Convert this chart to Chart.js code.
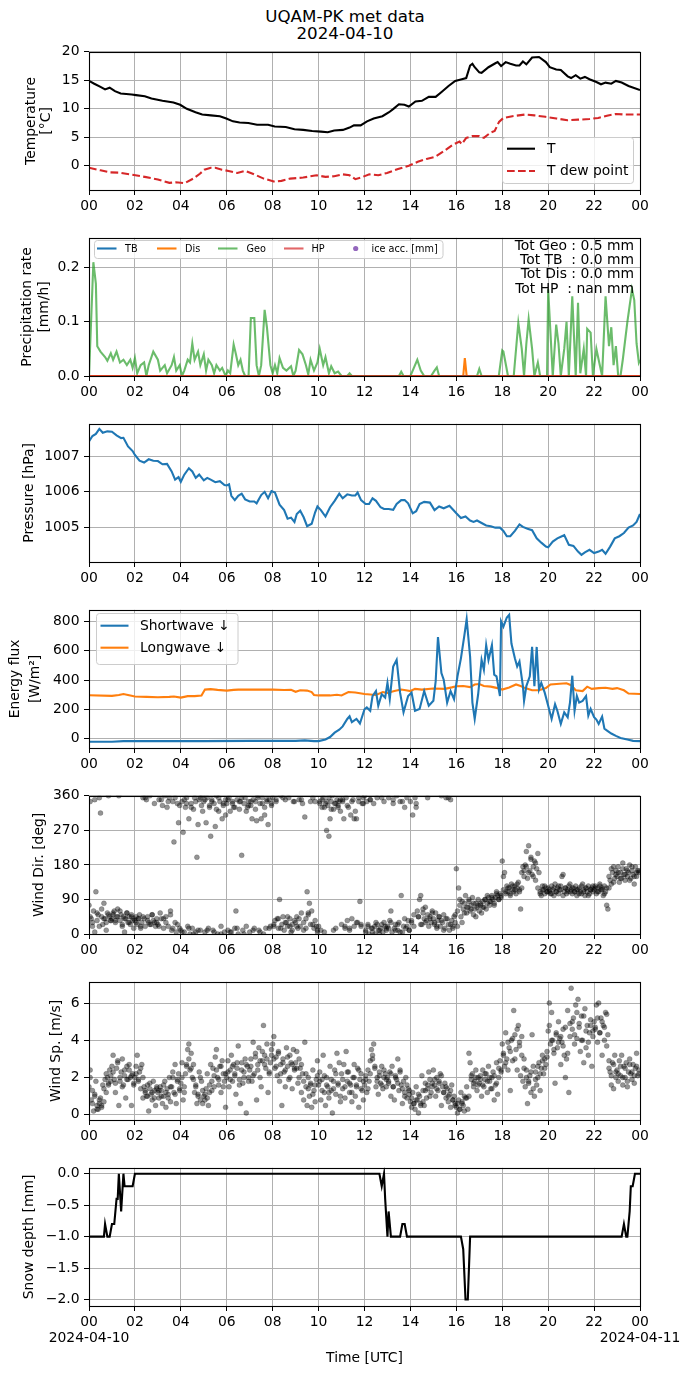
<!DOCTYPE html>
<html><head><meta charset="utf-8">
<script src="https://cdn.jsdelivr.net/npm/chart.js@4.4.0/dist/chart.umd.min.js"></script>
<style>
html,body{margin:0;padding:0;background:#fff;}
body{width:690px;height:1376px;position:relative;overflow:hidden;font-family:"DejaVu Sans",sans-serif;}
canvas{position:absolute;left:0;}
#title{position:absolute;left:0;top:8px;width:690px;text-align:center;font-size:16.7px;line-height:16.7px;color:#000;}
</style>
</head><body>
<div id="title">UQAM-PK met data<br>2024-04-10</div>
<script>
// ---------------- DATA ----------------
const xTickHours = [0,2,4,6,8,10,12,14,16,18,20,22,24];
const xTickLabels = ['00','02','04','06','08','10','12','14','16','18','20','22','00'];
const dateStart = '2024-04-10', dateEnd = '2024-04-11';

// Temperature [°C] : [hour, value]
const tempT = [[0,14.9],[0.23,14.4],[0.5,13.85],[0.7,13.4],[0.9,13.7],[1.13,13.1],[1.38,12.7],[1.86,12.5],[2.05,12.4],[2.43,12.2],[2.72,11.8],[3.2,11.4],[3.68,11.1],[3.97,10.7],[4.26,10.0],[4.64,9.4],[4.93,9.0],[5.31,8.85],[5.7,8.7],[5.98,8.3],[6.27,7.8],[6.56,7.6],[6.94,7.5],[7.32,7.2],[7.8,7.2],[8.09,6.9],[8.57,6.8],[8.95,6.4],[9.33,6.3],[9.72,6.1],[10.1,6.0],[10.4,5.9],[10.68,6.2],[11.06,6.3],[11.35,6.7],[11.54,7.1],[11.83,7.1],[12.11,7.8],[12.4,8.3],[12.78,8.7],[13.07,9.4],[13.26,10.0],[13.5,10.8],[13.74,10.7],[13.93,10.4],[14.22,11.3],[14.5,11.4],[14.8,12.1],[15.1,12.1],[15.37,13.0],[15.66,14.0],[15.95,14.9],[16.24,15.2],[16.43,15.4],[16.6,17.6],[16.7,17.9],[16.8,17.3],[17.0,16.4],[17.1,16.3],[17.4,17.3],[17.7,18.0],[17.8,18.2],[17.95,17.5],[18.15,18.2],[18.35,17.9],[18.6,17.6],[18.75,17.6],[18.9,18.3],[19.05,17.8],[19.3,19.0],[19.6,19.1],[19.9,18.2],[20.07,17.3],[20.35,16.9],[20.55,16.8],[20.85,15.7],[21.0,15.4],[21.2,15.9],[21.4,15.3],[21.6,15.6],[21.8,15.2],[22.1,14.7],[22.3,14.3],[22.5,14.6],[22.75,14.4],[22.95,14.9],[23.2,14.6],[23.5,14.0],[24,13.3]];
const tempTd = [[0,-0.35],[0.5,-0.8],[0.9,-1.15],[1.28,-1.2],[1.86,-1.55],[2.43,-1.95],[3.0,-2.4],[3.5,-3.0],[3.78,-2.9],[4.16,-3.05],[4.54,-2.25],[4.83,-1.4],[5.02,-0.7],[5.31,-0.35],[5.5,-0.35],[5.79,-0.7],[6.08,-0.9],[6.46,-1.26],[6.8,-0.9],[7.13,-1.4],[7.61,-2.25],[8.09,-2.8],[8.38,-2.65],[8.76,-2.25],[9.33,-2.07],[9.91,-1.67],[10.3,-1.95],[10.68,-1.84],[11.06,-1.5],[11.35,-1.67],[11.6,-2.35],[11.92,-1.95],[12.21,-1.5],[12.6,-1.67],[12.98,-1.26],[13.46,-0.57],[13.93,0.0],[14.32,0.7],[14.7,1.2],[15.09,1.6],[15.47,2.6],[15.85,3.7],[16.14,4.25],[16.24,3.8],[16.43,4.9],[16.7,5.2],[17.0,5.2],[17.2,4.9],[17.48,5.8],[17.67,6.1],[17.86,7.7],[18.05,8.4],[18.44,8.7],[19.0,9.0],[19.4,8.85],[19.88,8.6],[20.36,8.3],[20.84,8.0],[21.3,8.1],[21.8,8.2],[22.18,8.4],[22.56,8.8],[22.94,9.1],[23.33,9.0],[23.7,9.0],[24,9.0]];
const tempTicks = [0,5,10,15,20];
const tempTickLabels = ['0','5','10','15','20'];

// Precipitation rate [mm/h]
const precipGeo = [[0,0],[0.19,0.21],[0.3,0.17],[0.36,0.055],[0.5,0.045],[0.7,0.035],[0.8,0.028],[0.95,0.042],[1.05,0.03],[1.2,0.045],[1.35,0.025],[1.5,0.03],[1.65,0.02],[1.8,0.03],[1.9,0.015],[2.0,0.033],[2.1,0.005],[2.25,0.02],[2.4,0.025],[2.5,0.0],[2.6,0.02],[2.8,0.045],[3.0,0.03],[3.1,0.01],[3.3,0.02],[3.4,0.005],[3.6,0.02],[3.7,0.035],[3.8,0.01],[3.95,0.02],[4.05,0.0],[4.15,0.01],[4.3,0.03],[4.4,0.025],[4.5,0.06],[4.6,0.03],[4.75,0.045],[4.85,0.02],[5.0,0.04],[5.1,0.01],[5.2,0.03],[5.35,0.02],[5.45,0.005],[5.55,0.02],[5.7,0.01],[5.8,0.015],[5.95,0.0],[6.05,0.01],[6.15,0.005],[6.3,0.058],[6.4,0.04],[6.5,0.02],[6.6,0.03],[6.7,0.01],[6.8,0.0],[6.95,0.0],[7.05,0.107],[7.2,0.107],[7.3,0.02],[7.4,0.0],[7.5,0.02],[7.65,0.122],[7.75,0.09],[7.9,0.02],[8.0,0.005],[8.1,0.02],[8.2,0.005],[8.3,0.033],[8.45,0.015],[8.6,0.01],[8.8,0.018],[8.9,0.0],[9.0,0.01],[9.15,0.048],[9.3,0.04],[9.45,0.02],[9.55,0.003],[9.65,0.03],[9.8,0.01],[9.95,0.025],[10.05,0.05],[10.2,0.02],[10.3,0.035],[10.45,0.005],[10.55,0.018],[10.7,0.005],[10.85,0.008],[11.0,0.0],[11.25,0.0],[11.35,0.005],[11.45,0.0],[13.5,0.0],[13.6,0.008],[13.7,0.0],[14.0,0.0],[14.15,0.015],[14.3,0.03],[14.45,0.01],[14.6,0.0],[14.9,0.0],[15.05,0.01],[15.15,0.016],[15.25,0.0],[16.9,0.0],[17.0,0.013],[17.1,0.0],[17.85,0.0],[18.0,0.047],[18.05,0.045],[18.25,0.0],[18.5,0.0],[18.7,0.098],[18.85,0.05],[18.95,0.0],[19.05,0.06],[19.15,0.105],[19.3,0.05],[19.4,0.0],[19.55,0.025],[19.65,0.0],[19.95,0.0],[20.0,0.16],[20.1,0.08],[20.2,0.0],[20.35,0.095],[20.45,0.06],[20.55,0.0],[20.7,0.05],[20.8,0.1],[20.9,0.0],[21.05,0.147],[21.2,0.0],[21.3,0.135],[21.4,0.005],[21.55,0.05],[21.65,0.0],[21.7,0.087],[21.85,0.08],[21.95,0.0],[22.1,0.05],[22.25,0.02],[22.35,0.0],[22.5,0.147],[22.65,0.055],[22.75,0.09],[22.85,0.02],[22.95,0.055],[23.05,0.0],[23.15,0.0],[23.25,0.03],[23.45,0.1],[23.65,0.16],[23.75,0.14],[23.85,0.06],[23.95,0.025],[24,0.03]];
const precipDis = [[0,0],[16.3,0],[16.37,0.033],[16.45,0],[24,0]];
const precipTB = [[0,0],[24,0]];
const precipHP = [[0,0],[24,0]];
const precipTicks = [0,0.1,0.2];
const precipTickLabels = ['0.0','0.1','0.2'];
const precipLegend = ['TB','Dis','Geo','HP','ice acc. [mm]'];
const precipTotals = ['Tot Geo : 0.5 mm','Tot TB  : 0.0 mm','Tot Dis : 0.0 mm','Tot HP  : nan mm'];

// Pressure [hPa]
const pressure = [[0,1007.41],[0.15,1007.56],[0.3,1007.62],[0.45,1007.76],[0.6,1007.65],[0.8,1007.69],[1.0,1007.68],[1.2,1007.58],[1.4,1007.5],[1.5,1007.51],[1.7,1007.27],[1.9,1007.14],[2.0,1007.03],[2.2,1006.87],[2.4,1006.82],[2.6,1006.91],[2.8,1006.87],[3.0,1006.86],[3.2,1006.77],[3.4,1006.78],[3.6,1006.57],[3.75,1006.34],[3.9,1006.41],[4.0,1006.28],[4.15,1006.48],[4.35,1006.66],[4.5,1006.57],[4.65,1006.39],[4.8,1006.48],[5.0,1006.32],[5.15,1006.39],[5.3,1006.34],[5.5,1006.27],[5.7,1006.3],[5.9,1006.19],[6.0,1006.18],[6.1,1006.21],[6.2,1005.89],[6.35,1005.77],[6.5,1005.89],[6.65,1005.95],[6.8,1005.79],[7.0,1005.73],[7.2,1005.73],[7.3,1005.68],[7.5,1005.91],[7.65,1006.0],[7.8,1005.82],[7.95,1006.02],[8.1,1005.98],[8.3,1005.64],[8.5,1005.49],[8.65,1005.25],[8.8,1005.28],[8.95,1005.16],[9.05,1005.38],[9.2,1005.47],[9.35,1005.29],[9.5,1005.04],[9.7,1005.11],[9.85,1005.43],[9.95,1005.59],[10.1,1005.49],[10.3,1005.31],[10.5,1005.57],[10.7,1005.75],[10.9,1005.95],[11.05,1005.82],[11.25,1005.93],[11.45,1005.9],[11.6,1005.9],[11.7,1005.98],[11.85,1005.77],[12.05,1005.66],[12.2,1005.66],[12.35,1005.82],[12.5,1005.75],[12.7,1005.57],[12.85,1005.52],[13.05,1005.52],[13.25,1005.5],[13.4,1005.66],[13.6,1005.77],[13.75,1005.77],[13.9,1005.68],[14.1,1005.4],[14.25,1005.46],[14.4,1005.66],[14.6,1005.72],[14.85,1005.7],[15.05,1005.49],[15.25,1005.59],[15.45,1005.54],[15.7,1005.61],[15.9,1005.47],[16.0,1005.4],[16.2,1005.27],[16.4,1005.31],[16.6,1005.2],[16.75,1005.16],[16.9,1005.2],[17.1,1005.13],[17.3,1005.06],[17.5,1005.04],[17.7,1005.0],[17.9,1005.0],[18.05,1004.91],[18.2,1004.76],[18.35,1004.76],[18.55,1004.91],[18.75,1005.09],[18.9,1005.02],[19.1,1004.97],[19.3,1004.93],[19.5,1004.7],[19.7,1004.58],[19.9,1004.47],[20.0,1004.45],[20.2,1004.61],[20.4,1004.7],[20.6,1004.76],[20.7,1004.79],[20.9,1004.52],[21.1,1004.49],[21.3,1004.33],[21.45,1004.24],[21.6,1004.31],[21.8,1004.38],[22.0,1004.29],[22.2,1004.33],[22.35,1004.38],[22.5,1004.27],[22.7,1004.47],[22.9,1004.7],[23.1,1004.76],[23.3,1004.85],[23.5,1005.0],[23.7,1005.06],[23.85,1005.16],[24,1005.38]];
const pressureTicks = [1005,1006,1007];
const pressureTickLabels = ['1005','1006','1007'];

// Energy flux [W/m2]
const shortwave = [[0,-22],[1.0,-22],[1.5,-18],[3,-18],[5,-18],[7,-16],[9,-16],[9.4,-13],[9.8,-18],[10.0,-18],[10.3,-7],[10.5,10],[10.7,40],[10.9,60],[11.05,83],[11.25,134],[11.35,152],[11.45,112],[11.65,134],[11.8,103],[12.0,200],[12.1,213],[12.25,190],[12.35,290],[12.5,325],[12.6,224],[12.75,303],[12.9,280],[13.0,381],[13.1,269],[13.25,493],[13.4,538],[13.55,314],[13.7,179],[13.9,291],[14.05,314],[14.2,190],[14.4,202],[14.6,325],[14.8,224],[15.0,258],[15.1,392],[15.2,695],[15.35,448],[15.45,403],[15.6,246],[15.75,325],[15.9,269],[16.05,426],[16.2,549],[16.35,706],[16.45,818],[16.6,560],[16.7,246],[16.8,134],[16.95,303],[17.1,538],[17.2,471],[17.3,639],[17.4,538],[17.55,639],[17.65,437],[17.75,426],[17.9,291],[17.95,802],[18.05,766],[18.2,829],[18.3,847],[18.4,650],[18.55,549],[18.65,493],[18.75,527],[18.9,359],[18.95,258],[19.05,359],[19.2,426],[19.3,627],[19.4,359],[19.5,627],[19.6,336],[19.7,381],[19.85,314],[20.0,224],[20.15,134],[20.3,235],[20.4,190],[20.55,100],[20.7,179],[20.85,146],[20.95,246],[21.05,430],[21.15,190],[21.25,291],[21.35,246],[21.5,258],[21.65,291],[21.75,157],[21.85,202],[22.0,146],[22.1,130],[22.2,100],[22.35,150],[22.45,67],[22.55,56],[22.75,34],[22.95,18],[23.15,4],[23.45,-7],[23.7,-16],[24,-18]];
const longwave = [[0,296],[1.0,292],[1.3,298],[1.5,305],[1.8,295],[2.0,288],[2.5,285],[3.0,283],[3.5,285],[3.7,288],[4.0,280],[4.3,290],[4.6,290],[4.9,295],[5.05,335],[5.3,338],[5.6,333],[6.0,328],[6.3,333],[6.5,335],[7.0,335],[8.0,335],[8.5,332],[8.8,333],[9.0,320],[9.2,330],[9.5,328],[9.7,318],[9.8,298],[10.0,295],[10.5,295],[10.8,300],[11.0,295],[11.3,318],[11.6,315],[12.0,305],[12.5,298],[12.8,318],[13.0,312],[13.3,325],[13.6,335],[13.8,330],[14.0,325],[14.2,340],[14.5,335],[15.0,342],[15.5,340],[15.8,350],[16.0,358],[16.3,360],[16.6,352],[16.8,370],[17.0,373],[17.2,360],[17.5,355],[17.8,345],[18.0,335],[18.3,350],[18.6,370],[18.8,360],[19.0,345],[19.3,330],[19.6,330],[19.9,345],[20.1,370],[20.5,375],[20.8,378],[21.0,365],[21.2,330],[21.5,325],[21.7,355],[21.9,340],[22.2,345],[22.5,348],[22.8,340],[23.0,345],[23.3,330],[23.5,308],[24,305]];
const fluxTicks = [0,200,400,600,800];
const fluxTickLabels = ['0','200','400','600','800'];
const fluxLegend = ['Shortwave ↓','Longwave ↓'];

// Wind direction [deg], one row per hour (3-minute samples)
const windDir = [
[75,345,40,20,60,5,110,35,50,355,315,45,25,80,40,30,55,360,45,35],
[40,55,60,30,45,65,360,35,50,20,45,5,40,55,30,45,25,50,35,40],
[35,45,25,40,50,15,30,355,40,20,350,45,30,360,25,50,35,340,20,30],
[25,350,55,40,335,15,360,45,330,20,355,60,10,345,240,30,5,340,290,15],
[10,345,265,5,330,355,20,300,0,340,15,325,355,5,200,285,350,10,335,360],
[345,5,290,355,15,330,255,350,10,340,280,360,0,320,345,20,300,335,5,350],
[340,10,355,320,5,345,330,15,60,350,0,325,345,205,10,340,355,20,330,345],
[5,335,300,350,15,345,295,360,10,340,300,355,0,330,15,345,285,350,20,340],
[355,20,35,345,40,15,90,360,25,45,10,350,30,20,355,40,5,25,345,35],
[30,45,15,350,20,55,340,10,305,40,110,50,80,25,60,355,15,345,20,10],
[20,345,10,330,355,5,340,270,335,255,300,345,360,325,340,15,350,330,345,320],
[25,345,300,15,355,35,330,10,310,40,350,20,320,300,30,345,85,20,340,355],
[360,10,345,25,0,350,15,5,340,20,30,355,10,0,15,25,5,345,20,10],
[20,355,35,60,5,340,15,25,360,10,30,345,100,5,20,330,15,355,35,10],
[345,30,310,20,355,330,60,45,90,100,25,55,40,70,35,50,20,45,30,60],
[40,25,55,15,35,45,20,360,30,50,15,355,40,25,10,350,35,20,45,30],
[170,20,120,90,45,30,65,80,100,55,70,85,60,75,95,50,65,80,70,90],
[60,75,55,85,70,90,65,80,95,75,85,100,90,80,95,110,100,90,105,95],
[190,115,160,105,125,110,120,100,130,115,110,125,105,120,135,115,65,160,175,150],
[180,215,145,230,165,200,155,175,190,140,170,210,160,110,100,125,115,105,120,110],
[120,110,105,125,115,100,130,110,120,105,115,125,150,155,110,120,105,115,125,110],
[115,105,120,110,125,100,115,120,110,105,130,115,100,120,110,125,105,115,120,110],
[115,125,105,120,110,130,115,120,100,125,110,75,65,120,140,130,160,175,145,165],
[150,175,135,160,145,185,155,140,170,150,160,180,145,165,155,130,175,150,165,160]];
// Wind direction, intermediate samples (6-minute, offset), one row per hour
const windDirMid = [
[45,30,350,55,20,65,40,10,50,35],
[50,35,45,60,25,40,55,30,45,15],
[30,40,20,45,355,35,25,50,30,40],
[20,350,40,30,345,50,15,355,25,335],
[5,350,340,15,330,0,345,10,355,320],
[350,10,335,345,5,325,355,0,340,310],
[350,5,340,330,15,345,355,0,320,335],
[345,10,325,355,5,340,310,350,15,335],
[25,350,40,15,355,30,45,20,10,345],
[20,40,350,30,15,55,345,25,35,5],
[340,350,330,345,355,325,10,340,335,350],
[350,20,335,15,345,300,30,355,25,340],
[5,20,350,15,0,25,10,355,30,15],
[15,30,350,10,25,5,345,40,20,10],
[35,50,340,45,25,65,30,355,40,55],
[30,20,45,35,10,40,355,25,15,50],
[60,75,85,55,70,90,65,80,45,75],
[80,70,90,100,85,95,75,105,90,100],
[150,110,120,105,125,115,130,110,120,165],
[175,160,195,150,185,120,105,115,125,110],
[115,105,120,110,125,115,100,120,110,130],
[120,110,115,105,125,110,120,100,115,125],
[120,110,125,115,105,120,150,170,135,155],
[160,145,170,155,165,140,175,150,160,165]];
const windDirTicks = [0,90,180,270,360];
const windDirTickLabels = ['0','90','180','270','360'];

// Wind speed [m/s], one row per hour (3-minute samples)
const windSpd = [
[1.5,2.4,0.8,1.3,0.2,1.0,1.8,0.5,0.3,0.6,0.9,0.4,1.6,0.7,1.9,1.2,2.0,1.6,2.4,1.8],
[2.6,3.2,1.9,1.2,2.5,2.9,0.5,1.8,2.3,3.0,1.6,2.1,0.9,2.6,1.9,2.4,2.0,0.5,2.2,1.7],
[2.0,2.6,3.2,1.9,2.3,1.4,2.7,0.9,1.5,1.2,1.0,1.6,0.2,1.4,1.1,0.8,1.8,1.3,0.5,1.5],
[1.2,0.9,1.5,1.3,0.6,1.0,1.8,0.4,1.4,1.1,2.0,0.7,1.5,2.3,1.2,2.7,0.6,1.9,2.2,1.4],
[1.7,2.8,0.8,1.5,2.2,2.6,3.5,3.8,2.4,3.3,2.0,2.7,1.2,1.5,0.6,1.0,2.3,0.8,1.8,0.6],
[1.0,0.8,1.4,2.2,0.5,1.2,2.7,1.8,2.5,1.5,3.1,3.5,2.0,1.6,2.6,1.2,2.9,2.2,1.8,0.4],
[2.0,2.9,1.5,2.4,3.2,1.8,2.7,2.2,1.1,2.5,3.7,1.9,0.6,2.8,1.7,2.3,3.0,0.1,2.6,2.0],
[2.4,3.0,1.8,3.9,2.2,3.3,0.8,2.7,3.6,2.0,1.5,2.9,4.8,3.2,2.5,3.8,1.2,2.2,2.8,3.5],
[3.8,4.2,2.5,3.1,2.1,3.4,1.8,2.7,0.5,3.0,2.3,1.5,3.6,2.6,1.9,3.2,2.8,1.4,3.5,2.4],
[2.8,3.4,1.7,3.0,2.5,1.2,2.2,0.8,3.9,1.5,0.5,2.0,1.0,1.6,0.4,2.4,1.3,0.7,1.9,2.9],
[1.6,2.3,0.8,1.9,3.2,1.2,0.5,2.0,1.5,0.9,2.6,1.3,0.1,1.8,2.4,1.1,3.3,1.6,2.8,0.7],
[2.2,1.4,2.7,0.9,3.4,1.8,2.3,1.2,1.6,0.7,2.0,2.7,1.0,1.5,2.5,0.4,1.9,2.2,1.3,0.8],
[1.6,2.1,1.2,2.4,1.8,2.9,3.5,3.2,3.8,2.5,1.5,2.0,1.1,2.3,1.7,2.6,1.4,2.0,2.2,1.5],
[2.0,1.7,2.3,1.0,2.6,1.5,0.8,2.1,1.9,3.0,1.3,2.4,1.6,0.6,1.8,1.2,2.0,0.9,1.4,1.1],
[0.7,0.4,1.2,0.6,0.3,1.5,0.8,0.1,1.0,0.6,2.1,1.3,0.5,1.7,0.9,1.4,2.3,1.9,1.2,1.7],
[2.4,1.6,1.0,2.0,1.3,1.8,2.2,0.5,1.5,1.2,1.7,0.9,1.4,0.7,1.1,0.4,1.6,0.8,1.0,0.5],
[0.4,0.1,0.8,0.3,1.2,0.6,0.5,1.0,0.9,1.5,0.3,3.3,2.8,1.9,2.2,1.5,1.8,2.4,1.3,2.0],
[1.7,2.1,1.0,2.4,1.5,1.9,2.2,1.2,2.6,1.8,1.4,2.0,2.3,0.8,1.6,2.8,1.1,2.0,2.9,2.4],
[3.8,3.2,2.6,4.4,3.0,2.4,3.6,1.3,4.0,2.9,5.6,4.3,3.5,2.4,4.8,3.9,2.1,4.2,1.8,3.0],
[1.5,2.4,0.6,1.8,2.1,1.2,4.3,2.6,1.0,2.3,1.6,2.0,2.8,1.3,2.5,3.2,2.2,3.0,2.7,3.4],
[4.5,6.0,3.8,5.5,4.0,3.3,1.7,4.3,3.6,5.0,4.1,2.7,3.9,4.6,3.2,2.0,3.0,5.6,1.2,4.2],
[6.8,4.6,5.2,3.8,5.9,4.1,6.2,4.9,3.4,5.3,4.0,2.8,5.7,3.6,4.8,3.2,4.4,5.1,2.6,4.5],
[5.0,4.7,5.9,3.9,6.0,4.4,5.2,3.2,4.8,4.0,5.5,3.7,4.3,2.9,2.3,1.6,2.8,1.4,3.2,2.0],
[2.4,1.8,2.9,2.1,3.2,1.6,2.6,2.0,2.8,1.5,2.3,3.0,2.2,1.9,2.7,1.7,2.5,3.3,2.1,2.4]];
// Wind speed, intermediate samples (6-minute, offset), one row per hour
const windSpdMid = [
[2.0,0.6,1.1,0.3,0.8,0.5,1.4,2.2,1.7,2.1],
[2.3,1.7,2.8,2.0,1.5,2.4,1.9,2.7,2.1,1.6],
[2.2,1.8,2.5,2.0,1.3,1.0,1.7,1.2,0.9,1.4],
[1.3,1.0,1.6,1.2,0.9,1.5,2.0,1.1,1.8,1.3],
[2.0,1.2,2.7,3.0,2.5,1.9,1.6,1.1,2.0,1.3],
[1.1,0.9,1.6,1.3,2.1,2.4,1.9,2.6,1.5,2.2],
[2.3,1.9,2.6,2.1,2.8,1.6,2.4,2.0,2.7,1.8],
[2.6,2.1,3.1,2.4,2.9,3.4,2.7,3.0,2.3,3.2],
[3.0,2.6,3.3,2.2,2.8,2.4,3.1,2.0,2.7,2.5],
[2.5,2.0,2.7,1.8,2.2,1.4,1.7,1.1,1.6,2.1],
[1.8,1.3,2.1,1.6,1.2,1.9,1.4,2.2,1.7,1.0],
[1.9,1.5,2.3,1.7,1.2,2.0,1.6,2.4,1.4,1.8],
[1.9,1.4,2.2,3.0,2.6,1.8,2.1,1.6,2.4,1.9],
[1.8,2.2,1.5,2.0,1.7,2.3,1.4,1.0,1.6,1.3],
[0.9,0.6,0.8,1.1,0.5,0.7,1.3,1.6,1.0,1.5],
[1.9,1.4,1.7,2.1,1.2,1.5,1.0,1.3,0.8,0.6],
[0.6,0.3,0.7,0.2,0.9,1.0,2.1,1.7,2.0,1.6],
[1.9,1.6,2.2,1.8,2.0,1.4,2.1,1.7,2.5,2.3],
[3.3,2.8,3.9,3.4,4.1,3.0,4.6,3.7,3.2,2.5],
[2.0,1.7,2.3,1.4,1.9,2.6,2.2,2.9,2.5,3.1],
[4.8,4.0,3.5,4.4,3.9,4.2,3.7,4.7,3.3,4.9],
[5.0,4.3,5.5,4.7,4.0,5.3,4.5,3.9,4.8,4.2],
[4.6,5.2,4.4,5.0,4.7,5.4,2.5,2.1,2.7,2.3],
[2.2,2.6,2.0,2.5,1.8,2.7,2.3,2.1,2.6,2.2]];
const windSpdTicks = [0,2,4,6];
const windSpdTickLabels = ['0','2','4','6'];

// Snow depth [mm]
const snowDepth = [[0,-1],[0.65,-1],[0.7,-0.8],[0.8,-1],[0.9,-1],[1.0,-0.8],[1.1,-0.8],[1.2,-0.4],[1.25,-0.4],[1.3,0],[1.35,-0.3],[1.4,-0.6],[1.5,0],[1.55,-0.2],[1.9,-0.2],[2.0,0],[12.65,0],[12.75,-0.2],[12.85,0],[12.9,-0.4],[13.0,-1],[13.05,-0.6],[13.15,-1],[13.55,-1],[13.65,-0.8],[13.75,-0.8],[13.85,-1],[16.2,-1],[16.3,-1.2],[16.4,-2],[16.5,-2],[16.6,-1],[23.2,-1],[23.3,-0.8],[23.4,-1],[23.45,-1],[23.55,-0.6],[23.6,-0.2],[23.68,-0.2],[23.78,0],[24,0]];
const snowTicks = [-2,-1.5,-1,-0.5,0];
const snowTickLabels = ['\u22122.0','\u22121.5','\u22121.0','\u22120.5','0.0'];

// ---------------- RENDERING ----------------
const FONT = '"DejaVu Sans", sans-serif';
Chart.defaults.font.family = FONT;
Chart.defaults.font.size = 13.9;
Chart.defaults.color = '#000';
Chart.defaults.animation = false;

const GRID = {color:'#b0b0b0', lineWidth:1, tickColor:'#000', tickLength:5, tickWidth:1};
const xy = a => a.map(p => ({x:p[0], y:p[1]}));
const hourly = (rows, off) => { const out=[]; rows.forEach((r,h)=>r.forEach((v,k)=>out.push({x:h+(k+off)/r.length, y:v}))); return out; };

function xAxis(last){
  return {
    type:'linear', min:0, max:24,
    afterBuildTicks(s){ s.ticks = xTickHours.map(v=>({value:v})); },
    afterFit(s){ s.height = last ? 70 : 30; },
    grid:GRID, border:{display:false},
    ticks:{autoSkip:false, maxRotation:0, minRotation:0, padding:3,
      font:{size:13.9, lineHeight:'16px'},
      callback(v,i){
        if(last && i===0) return [xTickLabels[i], dateStart];
        if(last && i===xTickHours.length-1) return [xTickLabels[i], dateEnd];
        return xTickLabels[i];
      }},
    title: last ? {display:true, text:'Time [UTC]', font:{size:13.9, lineHeight:'16.7px'}, padding:{top:0,bottom:9.7}} : {display:false}
  };
}
function yAxis(min,max,ticks,labels,title,lh,padTop){
  return {
    type:'linear', min, max,
    afterBuildTicks(s){ s.ticks = ticks.map(v=>({value:v})); },
    afterFit(s){ s.width = 89; },
    grid:GRID, border:{display:false},
    ticks:{padding:4.5, callback(v,i){ return labels[i]; }},
    title:{display:true, text:title, font:{size:13.9, lineHeight:lh+'px'}, padding:{top:padTop,bottom:0}}
  };
}
const framePlugin = {
  id:'frame',
  afterDatasetsDraw(chart){
    const {ctx, chartArea:a} = chart;
    ctx.save(); ctx.strokeStyle='#000'; ctx.lineWidth=1.1;
    ctx.strokeRect(Math.round(a.left)+0.5, Math.round(a.top)+0.5, Math.round(a.right-a.left), Math.round(a.bottom-a.top));
    ctx.restore();
  }
};
function roundBox(ctx,x,y,w,h,r){
  ctx.beginPath();
  ctx.moveTo(x+r,y); ctx.lineTo(x+w-r,y); ctx.quadraticCurveTo(x+w,y,x+w,y+r);
  ctx.lineTo(x+w,y+h-r); ctx.quadraticCurveTo(x+w,y+h,x+w-r,y+h);
  ctx.lineTo(x+r,y+h); ctx.quadraticCurveTo(x,y+h,x,y+h-r);
  ctx.lineTo(x,y+r); ctx.quadraticCurveTo(x,y,x+r,y); ctx.closePath();
}
function legendPlugin(cfg, canvasTop){
  return {
    id:'mplLegend',
    afterDraw(chart){
      const ctx = chart.ctx, o = canvasTop;
      ctx.save();
      roundBox(ctx, cfg.box[0]+0.5, cfg.box[1]-o+0.5, cfg.box[2], cfg.box[3], 3);
      ctx.fillStyle='rgba(255,255,255,0.8)'; ctx.fill();
      ctx.strokeStyle='#cccccc'; ctx.lineWidth=1; ctx.stroke();
      ctx.font = cfg.fontSize+'px '+FONT; ctx.textBaseline='middle'; ctx.textAlign='left';
      cfg.entries.forEach(e=>{
        const y = e.y - o;
        if(e.dot){
          ctx.beginPath(); ctx.arc(e.x0, y, 2.6, 0, Math.PI*2); ctx.fillStyle=e.color; ctx.fill();
        } else {
          ctx.beginPath(); ctx.setLineDash(e.dash||[]); ctx.strokeStyle=e.color; ctx.lineWidth=2.1;
          ctx.moveTo(e.x0,y); ctx.lineTo(e.x1,y); ctx.stroke(); ctx.setLineDash([]);
        }
        ctx.fillStyle='#000'; ctx.fillText(e.label, e.tx, y+0.5);
      });
      ctx.restore();
    }
  };
}
const totalsPlugin = {
  id:'totals',
  afterDatasetsDraw(chart){
    const {ctx, chartArea:a} = chart;
    ctx.save(); ctx.font='13.9px '+FONT; ctx.textAlign='right'; ctx.textBaseline='middle'; ctx.fillStyle='#000';
    precipTotals.forEach((t,i)=>ctx.fillText(t, a.right-6, a.top+8.5+i*14.2));
    ctx.restore();
  }
};

const PLOT_TOPS = [49,235,421,607,793,979,1165];
function panel(i, type, datasets, yopt, extraPlugins, last){
  const cv = document.createElement('canvas');
  const top = PLOT_TOPS[i]-10;
  const h = last ? 1376-top : 181;
  cv.width = 690; cv.height = h;
  cv.style.top = top+'px'; cv.style.width='690px'; cv.style.height=h+'px';
  document.body.appendChild(cv);
  new Chart(cv, {
    type, data:{datasets},
    options:{
      responsive:false, animation:false, devicePixelRatio: window.devicePixelRatio||1,
      layout:{padding:{top:10,right:50,bottom:0,left:0}},
      scales:{x:xAxis(last), y:yopt},
      plugins:{legend:{display:false}, tooltip:{enabled:false}},
      elements:{point:{radius:0}, line:{tension:0}},
      events:[]
    },
    plugins:[framePlugin, ...extraPlugins.map(f=>f(top))]
  });
}
const DOT = {backgroundColor:'rgba(0,0,0,0.42)', borderColor:'rgba(0,0,0,0.3)', borderWidth:0.6, pointRadius:2.5};

// Panel 1: Temperature
panel(0,'line',[
  {data:xy(tempT), borderColor:'#000', borderWidth:2.1, pointRadius:0},
  {data:xy(tempTd), borderColor:'#d62728', borderWidth:2.1, borderDash:[7.7,3.3], pointRadius:0}
], yAxis(-4.25,20,tempTicks,tempTickLabels,['Temperature','[°C]'],15.4,23.6),
[top=>legendPlugin({box:[502,137,131,46], fontSize:13.9, entries:[
  {label:'T', color:'#000', x0:507, x1:535, tx:547, y:148.7},
  {label:'T dew point', color:'#d62728', dash:[7.7,3.3], x0:507, x1:535, tx:547, y:171}
]}, top)], false);

// Panel 2: Precipitation
panel(1,'line',[
  {data:xy(precipHP), borderColor:'rgba(214,39,40,0.7)', borderWidth:2.1, pointRadius:0, order:0},
  {data:xy(precipGeo), borderColor:'rgba(44,160,44,0.7)', borderWidth:2.1, pointRadius:0, order:1},
  {data:xy(precipDis), borderColor:'#ff7f0e', borderWidth:2.1, pointRadius:0, order:2},
  {data:xy(precipTB), borderColor:'#1f77b4', borderWidth:2.1, pointRadius:0, order:3}
], yAxis(0,0.255,precipTicks,precipTickLabels,['Precipitation rate','[mm/h]'],17,18.5),
[()=>totalsPlugin, top=>legendPlugin({box:[94,240,348.5,18], fontSize:9.7, entries:[
  {label:precipLegend[0], color:'#1f77b4', x0:97, x1:116.5, tx:125, y:248.5},
  {label:precipLegend[1], color:'#ff7f0e', x0:157, x1:176.5, tx:185, y:248.5},
  {label:precipLegend[2], color:'rgba(44,160,44,0.7)', x0:218, x1:237.5, tx:246.5, y:248.5},
  {label:precipLegend[3], color:'rgba(214,39,40,0.7)', x0:284, x1:303.5, tx:311.5, y:248.5},
  {label:precipLegend[4], color:'#9467bd', dot:true, x0:355.7, tx:371.5, y:248.5}
]}, top)], false);

// Panel 3: Pressure
panel(2,'line',[
  {data:xy(pressure), borderColor:'#1f77b4', borderWidth:2.1, pointRadius:0}
], yAxis(1004.04,1007.9,pressureTicks,pressureTickLabels,'Pressure [hPa]',16,21.5), [], false);

// Panel 4: Energy flux
panel(3,'line',[
  {data:xy(shortwave), borderColor:'#1f77b4', borderWidth:2.1, pointRadius:0},
  {data:xy(longwave), borderColor:'#ff7f0e', borderWidth:2.1, pointRadius:0}
], yAxis(-65,881,fluxTicks,fluxTickLabels,['Energy flux','[W/m²]'],20,5),
[top=>legendPlugin({box:[96,613,141.5,51], fontSize:13.9, entries:[
  {label:fluxLegend[0], color:'#1f77b4', x0:100.5, x1:128.5, tx:140, y:625.7},
  {label:fluxLegend[1], color:'#ff7f0e', x0:100.5, x1:128.5, tx:140, y:647.7}
]}, top)], false);

// Panel 5: Wind direction
panel(4,'scatter',[
  Object.assign({data:hourly(windDir,0)}, DOT),
  Object.assign({data:hourly(windDirMid,0.5)}, DOT)
], yAxis(0,360,windDirTicks,windDirTickLabels,'Wind Dir. [deg]',16,31.2), [], false);

// Panel 6: Wind speed
panel(5,'scatter',[
  Object.assign({data:hourly(windSpd,0)}, DOT),
  Object.assign({data:hourly(windSpdMid,0.5)}, DOT)
], yAxis(-0.28,7.14,windSpdTicks,windSpdTickLabels,'Wind Sp. [m/s]',16,48), [], false);

// Panel 7: Snow depth
panel(6,'line',[
  {data:xy(snowDepth), borderColor:'#000', borderWidth:2.1, pointRadius:0}
], yAxis(-2.103,0.093,snowTicks,snowTickLabels,'Snow depth [mm]',16,21.5), [], true);
</script>
</body></html>
